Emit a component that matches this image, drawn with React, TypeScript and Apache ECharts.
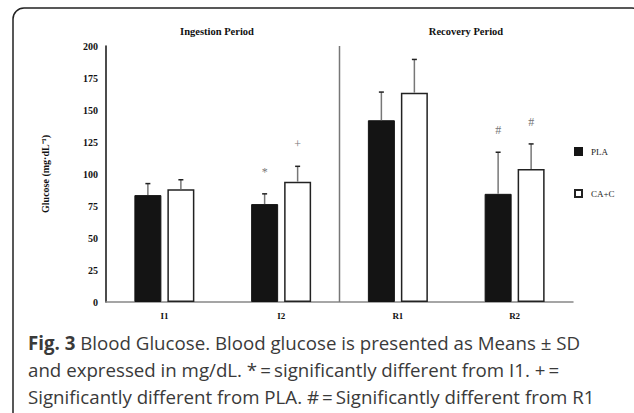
import React, { useEffect, useRef } from "react";
import * as echarts from "echarts";

const categories = ["I1", "I2", "R1", "R2"];
const plaMeans = [83.5, 76.5, 142, 84.5];
const plaSD = [9, 8, 22, 32.5];
const cacMeans = [88, 94, 163.5, 104];
const cacSD = [7.5, 12, 26, 19.5];
const plaMarks = ["", "*", "", "#"];
const cacMarks = ["", "+", "", "#"];
const yTicks = { min: 0, max: 200, interval: 25 };
const periodTitles = ["Ingestion Period", "Recovery Period"];
const dividerAfter = [1];

const BAR_W = 27;
const GAP = 6;
const SERIF = "'Liberation Serif', 'Times New Roman', serif";
const SANS = "'Open Sans', sans-serif";
const T = "\u2009";

export default function App() {
  const ref = useRef<HTMLDivElement>(null);
  useEffect(() => {
    if (!ref.current) return;
    const chart = echarts.init(ref.current, undefined, { renderer: "svg" });

    const errRender = (offsetSign: number, marks: string[]) => (params: any, api: any) => {
      const idx = api.value(0);
      const mean = api.value(1);
      const sd = api.value(2);
      const base = api.coord([idx, mean]);
      const top = api.coord([idx, mean + sd]);
      const x = base[0] + offsetSign * (BAR_W + GAP) / 2;
      const children: any[] = [
        { type: "line", shape: { x1: x, y1: base[1], x2: x, y2: top[1] }, style: { stroke: "#777", lineWidth: 1.5 } },
        { type: "line", shape: { x1: x - 2.5, y1: top[1], x2: x + 2.5, y2: top[1] }, style: { stroke: "#222", lineWidth: 1.5 } },
      ];
      const m = marks[idx];
      if (m) {
        children.push({
          type: "text",
          style: { text: m, x, y: top[1] - 22, align: "center", verticalAlign: "middle", fill: "#777", font: `12px ${SERIF}` },
        });
      }
      return { type: "group", children };
    };

    chart.setOption({
      animation: false,
      backgroundColor: "#fff",
      title: [
        { text: periodTitles[0], left: 212, top: 21, textAlign: "center", textStyle: { fontFamily: SERIF, fontSize: 10.5, fontWeight: "bold", color: "#111" } },
        { text: periodTitles[1], left: 461, top: 21, textAlign: "center", textStyle: { fontFamily: SERIF, fontSize: 10.5, fontWeight: "bold", color: "#111" } },
      ],
      legend: {
        orient: "vertical",
        left: 569,
        top: 142,
        itemWidth: 7,
        itemHeight: 7,
        itemGap: 33,
        icon: "rect",
        textStyle: { fontFamily: SERIF, fontSize: 9, color: "#222", padding: [0, 0, 0, 4] },
        data: ["PLA", "CA+C"],
      },
      grid: { left: 106, right: 61, top: 46, bottom: 111 },
      xAxis: {
        type: "category",
        data: categories,
        axisLine: { lineStyle: { color: "#888", width: 1.5 } },
        axisTick: { show: false },
        axisLabel: { fontFamily: SERIF, fontSize: 9, fontWeight: "bold", color: "#111", margin: 9 },
      },
      yAxis: {
        type: "value",
        min: yTicks.min,
        max: yTicks.max,
        interval: yTicks.interval,
        name: "Glucose (mg·dL⁻¹)",
        nameLocation: "middle",
        nameGap: 56,
        nameTextStyle: { fontFamily: SERIF, fontSize: 10, fontWeight: "bold", color: "#111" },
        axisLine: { show: true, lineStyle: { color: "#111", width: 1.5 } },
        axisTick: { show: false },
        splitLine: { show: false },
        axisLabel: { fontFamily: SERIF, fontSize: 10, fontWeight: "bold", color: "#111", margin: 8 },
      },
      graphic: [
        {
          type: "rect",
          shape: { x: 13, y: 8, width: 630, height: 420, r: 11 },
          style: { fill: "none", stroke: "#222", lineWidth: 1.5 },
          z: 100,
        },
        {
          type: "text",
          left: 28,
          top: 329,
          style: {
            text: `{b|Fig. 3} Blood Glucose. Blood glucose is presented as Means ± SD\nand expressed in mg/dL. *${T}=${T}significantly different from I1. +${T}=\nSignificantly different from PLA. #${T}=${T}Significantly different from R1`,
            font: `18.7px ${SANS}`,
            fill: "#3a3a3a",
            lineHeight: 27,
            rich: {
              b: { fontFamily: SANS, fontSize: 18.7, fontWeight: "bold", fill: "#3a3a3a", lineHeight: 27 },
            },
          },
        },
      ],
      series: [
        {
          name: "PLA",
          type: "bar",
          data: plaMeans,
          barWidth: BAR_W,
          barGap: `${(GAP / BAR_W) * 100}%`,
          itemStyle: { color: "#141414", borderColor: "#141414", borderWidth: 1 },
        },
        {
          name: "CA+C",
          type: "bar",
          data: cacMeans,
          barWidth: BAR_W,
          itemStyle: { color: "#fff", borderColor: "#222", borderWidth: 1.5 },
        },
        {
          name: "PLA err",
          type: "custom",
          data: plaMeans.map((v, i) => [i, v, plaSD[i]]),
          renderItem: errRender(-1, plaMarks),
          z: 5,
        },
        {
          name: "CA+C err",
          type: "custom",
          data: cacMeans.map((v, i) => [i, v, cacSD[i]]),
          renderItem: errRender(1, cacMarks),
          z: 5,
        },
        {
          name: "divider",
          type: "custom",
          data: dividerAfter.map((i) => [i]),
          renderItem: (params: any, api: any) => {
            const i = api.value(0);
            const a = api.coord([i, yTicks.max]);
            const b = api.coord([i + 1, yTicks.min]);
            const x = (a[0] + b[0]) / 2;
            return { type: "line", shape: { x1: x, y1: a[1], x2: x, y2: b[1] }, style: { stroke: "#777", lineWidth: 1.5 } };
          },
        },
      ],
    });
    return () => chart.dispose();
  }, []);
  return <div ref={ref} style={{ position: "fixed", left: 0, top: 0, width: 634, height: 413 }} />;
}
